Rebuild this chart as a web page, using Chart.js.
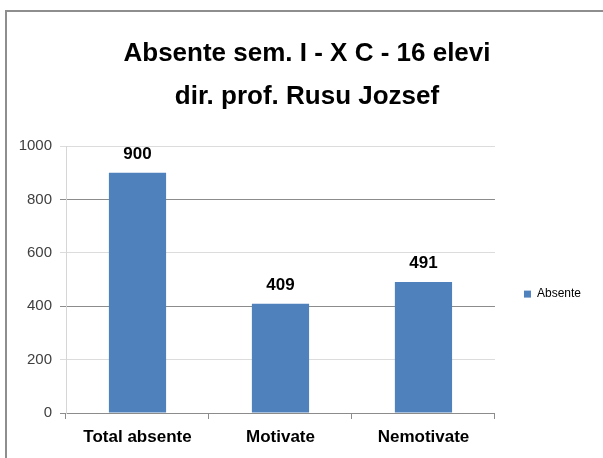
<!DOCTYPE html>
<html>
<head>
<meta charset="utf-8">
<script src="https://cdn.jsdelivr.net/npm/chart.js@4"></script>
<style>
  html, body { margin: 0; padding: 0; background: #fff; overflow: hidden; }
  #wrap { position: relative; width: 603px; height: 458px; }
  #frame {
    position: absolute; left: 5px; top: 10px; width: 640px; height: 480px;
    border: 2px solid #8e8e8e; box-sizing: border-box;
  }
  canvas { position: absolute; left: 0; top: 0; }
</style>
</head>
<body>
<div id="wrap">
  <div id="frame"></div>
  <canvas id="chart" width="603" height="458"></canvas>
</div>
<script>
// chart data
const titleLines = ["Absente sem. I - X C - 16 elevi", "dir. prof. Rusu Jozsef"];
const categories = ["Total absente", "Motivate", "Nemotivate"];
const seriesName = "Absente";
const absente = [900, 409, 491];
const yTicks = [0, 200, 400, 600, 800, 1000];

const SANS = "'Liberation Sans', Arial, sans-serif";

// value labels above the bars
const barLabels = {
  id: "barLabels",
  afterDatasetsDraw(chart) {
    const ctx = chart.ctx;
    const meta = chart.getDatasetMeta(0);
    ctx.save();
    ctx.font = "bold 17px " + SANS;
    ctx.fillStyle = "#000";
    ctx.textAlign = "center";
    ctx.textBaseline = "alphabetic";
    meta.data.forEach((bar, i) => {
      ctx.fillText(String(chart.data.datasets[0].data[i]), bar.x, bar.y - 14);
    });
    ctx.restore();
  }
};

// title sits a bit right of the canvas centre in the original
const titleShift = {
  id: "titleShift",
  afterLayout(chart) {
    if (chart.titleBlock) chart.titleBlock.left = 23;
  }
};

const gridColor = v => (v === 400 || v === 800 || v === 0) ? "#8c8c8c" : "#dcdcdc";

new Chart(document.getElementById("chart"), {
  type: "bar",
  data: {
    labels: categories,
    datasets: [{
      label: seriesName,
      data: absente,
      backgroundColor: "#4f81bd",
      borderWidth: 0,
      barPercentage: 0.8,
      categoryPercentage: 0.5
    }]
  },
  options: {
    responsive: false,
    animation: false,
    devicePixelRatio: 1,
    layout: { padding: { left: 0, right: 12, top: 0, bottom: 0 } },
    plugins: {
      title: {
        display: true,
        text: titleLines,
        color: "#000",
        font: { family: SANS, size: 26, weight: "bold", lineHeight: 43.5 / 26 },
        padding: { top: 32, bottom: 27 }
      },
      legend: {
        display: true,
        position: "right",
        fullSize: false,
        title: { display: true, text: "", font: { size: 1 }, padding: { top: 14, bottom: 14 } },
        labels: {
          boxWidth: 7,
          boxHeight: 7,
          padding: 29,
          color: "#000",
          font: { family: SANS, size: 12 }
        }
      },
      tooltip: { enabled: false }
    },
    scales: {
      x: {
        grid: {
          offset: true,
          drawOnChartArea: false,
          drawTicks: true,
          tickLength: 6,
          color: "#8c8c8c"
        },
        border: { color: "#8c8c8c", width: 1 },
        ticks: {
          color: "#000",
          padding: 8,
          font: { family: SANS, size: 17, weight: "bold" }
        },
        afterFit(scale) { scale.height = 45; }
      },
      y: {
        min: 0,
        max: 1000,
        afterBuildTicks(scale) { scale.ticks = yTicks.map(v => ({ value: v })); },
        grid: {
          tickLength: 6,
          color: ctx => gridColor(ctx.tick ? ctx.tick.value : 0),
          lineWidth: 1
        },
        border: { color: "#d6d6d6", width: 1 },
        ticks: {
          color: "#404040",
          padding: 8,
          font: { family: SANS, size: 15 },
          callback: v => String(v)
        },
        afterFit(scale) { scale.width = 66; }
      }
    }
  },
  plugins: [barLabels, titleShift]
});
</script>
</body>
</html>
